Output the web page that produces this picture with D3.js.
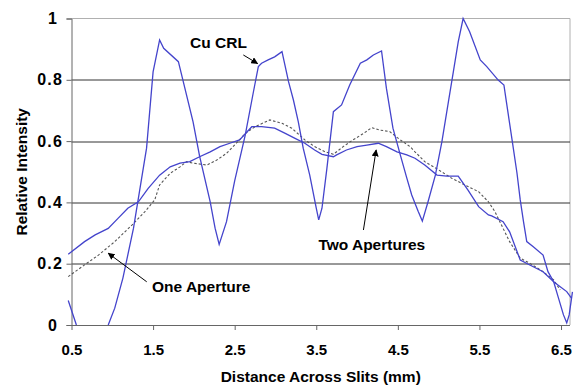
<!DOCTYPE html>
<html>
<head>
<meta charset="utf-8">
<script src="https://cdn.jsdelivr.net/npm/d3@7"></script>
<style>
  body { margin: 0; background: #fff; }
  text { font-family: Arial, "Liberation Sans", sans-serif; font-weight: bold; fill: #000; }
</style>
</head>
<body>
<script>
// Cu CRL scan (values below 0 are off the chart -> null gap)
const cuX = [0.46, 0.56, 0.75, 0.95, 1.03, 1.13, 1.26, 1.42, 1.50, 1.58, 1.63, 1.81, 1.87, 1.99, 2.07, 2.20, 2.26, 2.31, 2.40, 2.50,
    2.63, 2.73, 2.79, 2.83, 2.91, 2.99, 3.08, 3.16, 3.22, 3.28, 3.34, 3.42, 3.50, 3.53, 3.57, 3.63, 3.71, 3.81, 3.91, 4.04,
    4.12, 4.20, 4.30, 4.36, 4.44, 4.53, 4.61, 4.67, 4.75, 4.80, 4.87, 4.96, 5.04, 5.12, 5.18, 5.24, 5.30, 5.38, 5.51, 5.59,
    5.73, 5.80, 5.83, 5.90, 5.96, 6.00, 6.04, 6.08, 6.16, 6.28, 6.34, 6.41, 6.47, 6.53, 6.57, 6.60, 6.64];
const cuY = [0.08, 0, null, 0, 0.055, 0.153, 0.316, 0.577, 0.826, 0.93, 0.903, 0.859, 0.794, 0.663, 0.551, 0.402, 0.316, 0.263, 0.337, 0.47,
    0.62, 0.761, 0.843, 0.854, 0.865, 0.875, 0.892, 0.794, 0.734, 0.663, 0.577, 0.489, 0.381, 0.343, 0.381, 0.51, 0.696, 0.718, 0.783, 0.854,
    0.865, 0.881, 0.894, 0.772, 0.642, 0.555, 0.479, 0.424, 0.370, 0.339, 0.402, 0.489, 0.598, 0.729, 0.826, 0.924, 1.0, 0.957, 0.865, 0.843,
    0.799, 0.783, 0.729, 0.604, 0.496, 0.408, 0.337, 0.272, 0.255, 0.228, 0.174, 0.141, 0.087, 0.033, 0.007, 0.033, 0.108];

// Two Apertures
const twoX = [0.46, 0.66, 0.79, 0.95, 1.07, 1.19, 1.32, 1.44, 1.58, 1.71, 1.83, 1.95, 2.07, 2.20, 2.32, 2.44, 2.56, 2.71, 2.83, 2.99,
    3.12, 3.24, 3.36, 3.48, 3.57, 3.71, 3.75, 3.87, 4.00, 4.12, 4.26, 4.36, 4.49, 4.61, 4.71, 4.83, 4.98, 5.10, 5.24, 5.36,
    5.49, 5.61, 5.65, 5.79, 5.87, 6.00, 6.16, 6.28, 6.41, 6.49, 6.57, 6.63];
const twoY = [0.231, 0.272, 0.294, 0.315, 0.348, 0.381, 0.402, 0.446, 0.489, 0.516, 0.528, 0.533, 0.549, 0.565, 0.582, 0.593, 0.604, 0.647, 0.647, 0.642,
    0.625, 0.609, 0.593, 0.571, 0.557, 0.549, 0.555, 0.571, 0.582, 0.587, 0.593, 0.582, 0.565, 0.555, 0.544, 0.522, 0.489, 0.486, 0.486, 0.440,
    0.386, 0.359, 0.356, 0.337, 0.304, 0.212, 0.190, 0.174, 0.141, 0.125, 0.109, 0.087];

// One Aperture
const oneX = [0.46, 0.66, 0.83, 1.03, 1.24, 1.40, 1.52, 1.58, 1.71, 1.83, 1.91, 1.99, 2.16, 2.28, 2.40, 2.52, 2.63, 2.75, 2.93, 3.08,
    3.20, 3.36, 3.48, 3.61, 3.71, 3.83, 3.95, 4.08, 4.18, 4.28, 4.40, 4.53, 4.65, 4.71, 4.83, 5.00, 5.16, 5.32, 5.49, 5.61,
    5.69, 5.75, 5.87, 6.00, 6.12, 6.28, 6.41, 6.49];
const oneY = [0.158, 0.196, 0.228, 0.272, 0.326, 0.370, 0.408, 0.457, 0.495, 0.516, 0.533, 0.528, 0.522, 0.538, 0.560, 0.593, 0.625, 0.647, 0.669, 0.658,
    0.642, 0.604, 0.582, 0.565, 0.557, 0.582, 0.604, 0.625, 0.644, 0.636, 0.631, 0.604, 0.582, 0.565, 0.533, 0.506, 0.479, 0.457, 0.435, 0.402,
    0.370, 0.337, 0.272, 0.218, 0.201, 0.174, 0.147, 0.114];

const xTicks = [0.5, 1.5, 2.5, 3.5, 4.5, 5.5, 6.5];
const yTicks = [0, 0.2, 0.4, 0.6, 0.8, 1];
const yTickLabels = ["0", "0.2", "0.4", "0.6", "0.8", "1"];

const zip = (xs, ys) => xs.map((x, i) => ({ x: x, y: ys[i] }));

const margin = { top: 18.5, right: 4, bottom: 60, left: 71.5 };
const width = 574 - margin.left - margin.right;
const height = 385 - margin.top - margin.bottom;

const svg = d3.select("body")
    .append("svg")
    .attr("width", 574)
    .attr("height", 385);
const g = svg.append("g")
    .attr("transform", `translate(${margin.left}, ${margin.top})`);

const x = d3.scaleLinear().domain([0.5, 6.61]).range([0, width]);
const y = d3.scaleLinear().domain([0, 1]).range([height, 0]);

// plot border (top / right)
g.append("path")
    .attr("d", `M0,${y(1)}H${width}V${height}`)
    .attr("fill", "none")
    .attr("stroke", "#b0b0b0")
    .attr("stroke-width", 1);

// gridlines
g.selectAll("line.grid")
    .data(yTicks.filter(d => d > 0 && d < 1))
    .enter().append("line")
    .attr("class", "grid")
    .attr("x1", 0).attr("x2", width)
    .attr("y1", d => Math.round(y(d)) + 0.5).attr("y2", d => Math.round(y(d)) + 0.5)
    .attr("stroke", "#333")
    .attr("stroke-width", 1);

// axes
const yAxis = g.append("g")
    .call(d3.axisLeft(y).tickValues(yTicks).tickSize(5).tickPadding(3.5)
        .tickFormat((d, i) => yTickLabels[i]));
yAxis.select(".domain").attr("stroke", "#666");
yAxis.selectAll(".tick line").attr("stroke", "#666");
yAxis.selectAll("text")
    .style("font-size", "16px")
    .style("letter-spacing", "1.2px")
    .attr("fill", "#000")
    .attr("x", (d, i) => (d === 0 || d === 1) ? -13.5 : -8.5);

const xAxis = g.append("g")
    .attr("transform", `translate(0, ${height})`)
    .call(d3.axisBottom(x).tickValues(xTicks).tickSize(5).tickPadding(14).tickFormat(d => d.toFixed(1)));
xAxis.select(".domain").attr("stroke", "#666").attr("d", `M0,0.5H${width}`);
xAxis.selectAll(".tick line").attr("stroke", "#666");
xAxis.selectAll("text").style("font-size", "15px").attr("fill", "#000");

// lines
const line = d3.line()
    .defined(d => d.y !== null)
    .x(d => x(d.x))
    .y(d => y(d.y));

g.append("path")
    .datum(zip(oneX, oneY))
    .attr("fill", "none")
    .attr("stroke", "#555")
    .attr("stroke-width", 1.1)
    .attr("stroke-dasharray", "2.5,2")
    .attr("d", line);

g.append("path")
    .datum(zip(twoX, twoY))
    .attr("fill", "none")
    .attr("stroke", "#4444cc")
    .attr("stroke-width", 1.3)
    .attr("d", line);

g.append("path")
    .datum(zip(cuX, cuY))
    .attr("fill", "none")
    .attr("stroke", "#4444cc")
    .attr("stroke-width", 1.3)
    .attr("d", line);

// annotations
svg.append("defs").append("marker")
    .attr("id", "arrow")
    .attr("viewBox", "0 0 10 10")
    .attr("refX", 9).attr("refY", 5)
    .attr("markerWidth", 7).attr("markerHeight", 7)
    .attr("markerUnits", "userSpaceOnUse")
    .attr("orient", "auto")
    .append("path")
    .attr("d", "M0,0L10,5L0,10z")
    .attr("fill", "#000");

const labels = [
    { text: "Cu CRL", tx: 1.953, ty: 0.904, ax1: 2.606, ay1: 0.881, ax2: 2.781, ay2: 0.853 },
    { text: "One Aperture", tx: 1.487, ty: 0.108, ax1: 1.422, ay1: 0.141, ax2: 0.951, ay2: 0.234 },
    { text: "Two Apertures", tx: 3.526, ty: 0.245, ax1: 4.078, ay1: 0.31, ax2: 4.234, ay2: 0.571 }
];

labels.forEach(l => {
    g.append("line")
        .attr("x1", x(l.ax1)).attr("y1", y(l.ay1))
        .attr("x2", x(l.ax2)).attr("y2", y(l.ay2))
        .attr("stroke", "#000")
        .attr("stroke-width", 1)
        .attr("marker-end", "url(#arrow)");
    g.append("text")
        .attr("x", x(l.tx)).attr("y", y(l.ty))
        .style("font-size", "15.5px")
        .text(l.text);
});

// axis titles
svg.append("text")
    .attr("transform", `translate(27, ${margin.top + height / 2}) rotate(-90)`)
    .attr("text-anchor", "middle")
    .style("font-size", "15.5px")
    .text("Relative Intensity");

svg.append("text")
    .attr("x", margin.left + width / 2)
    .attr("y", 382)
    .attr("text-anchor", "middle")
    .style("font-size", "15.5px")
    .text("Distance Across Slits (mm)");
</script>
</body>
</html>
